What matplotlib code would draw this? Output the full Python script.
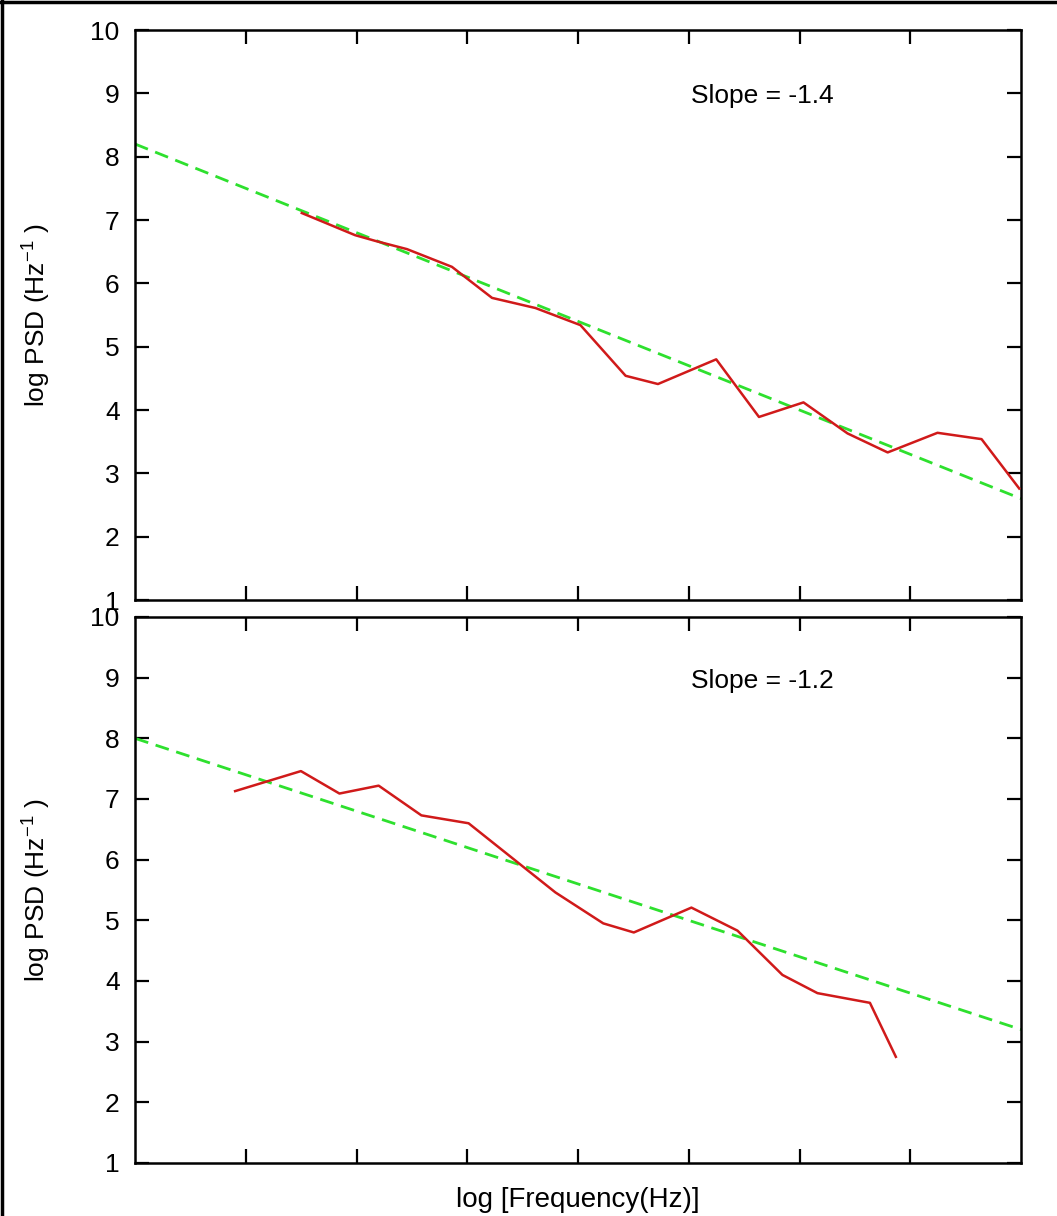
import matplotlib
matplotlib.use("Agg")
import matplotlib.pyplot as plt
from matplotlib.lines import Line2D

plt.rcParams['font.family'] = ['Liberation Sans', 'DejaVu Sans']
plt.rcParams['mathtext.fontset'] = 'custom'
plt.rcParams['mathtext.rm'] = 'Liberation Sans'
plt.rcParams['mathtext.it'] = 'Liberation Sans'

# ---- data (log frequency in arbitrary units, log PSD) ----
top_x = [0.753, 0.994, 1.085, 1.228, 1.431, 1.612, 1.808, 2.011, 2.215, 2.361,
         2.624, 2.817, 3.018, 3.217, 3.398, 3.623, 3.822, 3.992]
top_y = [7.11, 6.76, 6.67, 6.54, 6.26, 5.77, 5.61, 5.34, 4.54, 4.41,
         4.80, 3.89, 4.12, 3.63, 3.33, 3.64, 3.54, 2.76]
top_fit_x = [0.0, 4.0]
top_fit_y = [8.2, 2.6]
top_slope_text = "Slope = -1.4"

bot_x = [0.452, 0.749, 0.923, 1.100, 1.293, 1.506, 1.898, 2.114, 2.252, 2.512,
         2.720, 2.923, 3.081, 3.318, 3.435]
bot_y = [7.13, 7.46, 7.09, 7.22, 6.73, 6.60, 5.46, 4.95, 4.80, 5.21,
         4.83, 4.10, 3.80, 3.64, 2.75]
bot_fit_x = [0.0, 4.0]
bot_fit_y = [8.0, 3.2]
bot_slope_text = "Slope = -1.2"

x_ticks = [0.5, 1.0, 1.5, 2.0, 2.5, 3.0, 3.5]
y_ticks = [1, 2, 3, 4, 5, 6, 7, 8, 9, 10]

RED = '#d01a1a'
GREEN = '#2ee02e'
FS = 19

W, H = 1057, 1216
fig = plt.figure(figsize=(W / 100, H / 100), dpi=100)

left = 135 / W
width = (1021 - 135) / W
ax_top = fig.add_axes([left, 1 - 600 / H, width, 570 / H])
ax_bot = fig.add_axes([left, 1 - 1163 / H, width, 546 / H])

panels = [
    (ax_top, top_x, top_y, top_fit_x, top_fit_y, top_slope_text),
    (ax_bot, bot_x, bot_y, bot_fit_x, bot_fit_y, bot_slope_text),
]

for ax, xs, ys, fx, fy, txt in panels:
    ax.plot(fx, fy, color=GREEN, lw=2.0, linestyle=(0, (5, 2.8)), zorder=2)
    ax.plot(xs, ys, color=RED, lw=1.8, zorder=3)
    ax.set_xlim(0, 4)
    ax.set_ylim(1, 10)
    ax.set_xticks(x_ticks)
    ax.set_xticklabels([])
    ax.set_yticks(y_ticks)
    ax.set_yticklabels([str(v) for v in y_ticks])
    ax.tick_params(axis='both', direction='in', length=10, width=1.6,
                   top=True, right=True, labelsize=FS, pad=11, colors='black')
    for s in ax.spines.values():
        s.set_linewidth(1.8)
    ax.set_ylabel('log PSD (Hz$^{-1}$ )', fontsize=FS)
    ax.yaxis.set_label_coords(-0.093, 0.5)
    ax.text(2.51, 8.95, txt, fontsize=FS, va='center', ha='left')

ax_bot.set_xlabel('log [Frequency(Hz)]', fontsize=FS + 1, labelpad=6)

# image border (top and left edges)
fig.add_artist(Line2D([0, 1], [1 - 1.5 / H, 1 - 1.5 / H], transform=fig.transFigure,
                      color='black', lw=2.5))
fig.add_artist(Line2D([1.5 / W, 1.5 / W], [0, 1], transform=fig.transFigure,
                      color='black', lw=2.5))

fig.savefig('out.png', dpi=100)
